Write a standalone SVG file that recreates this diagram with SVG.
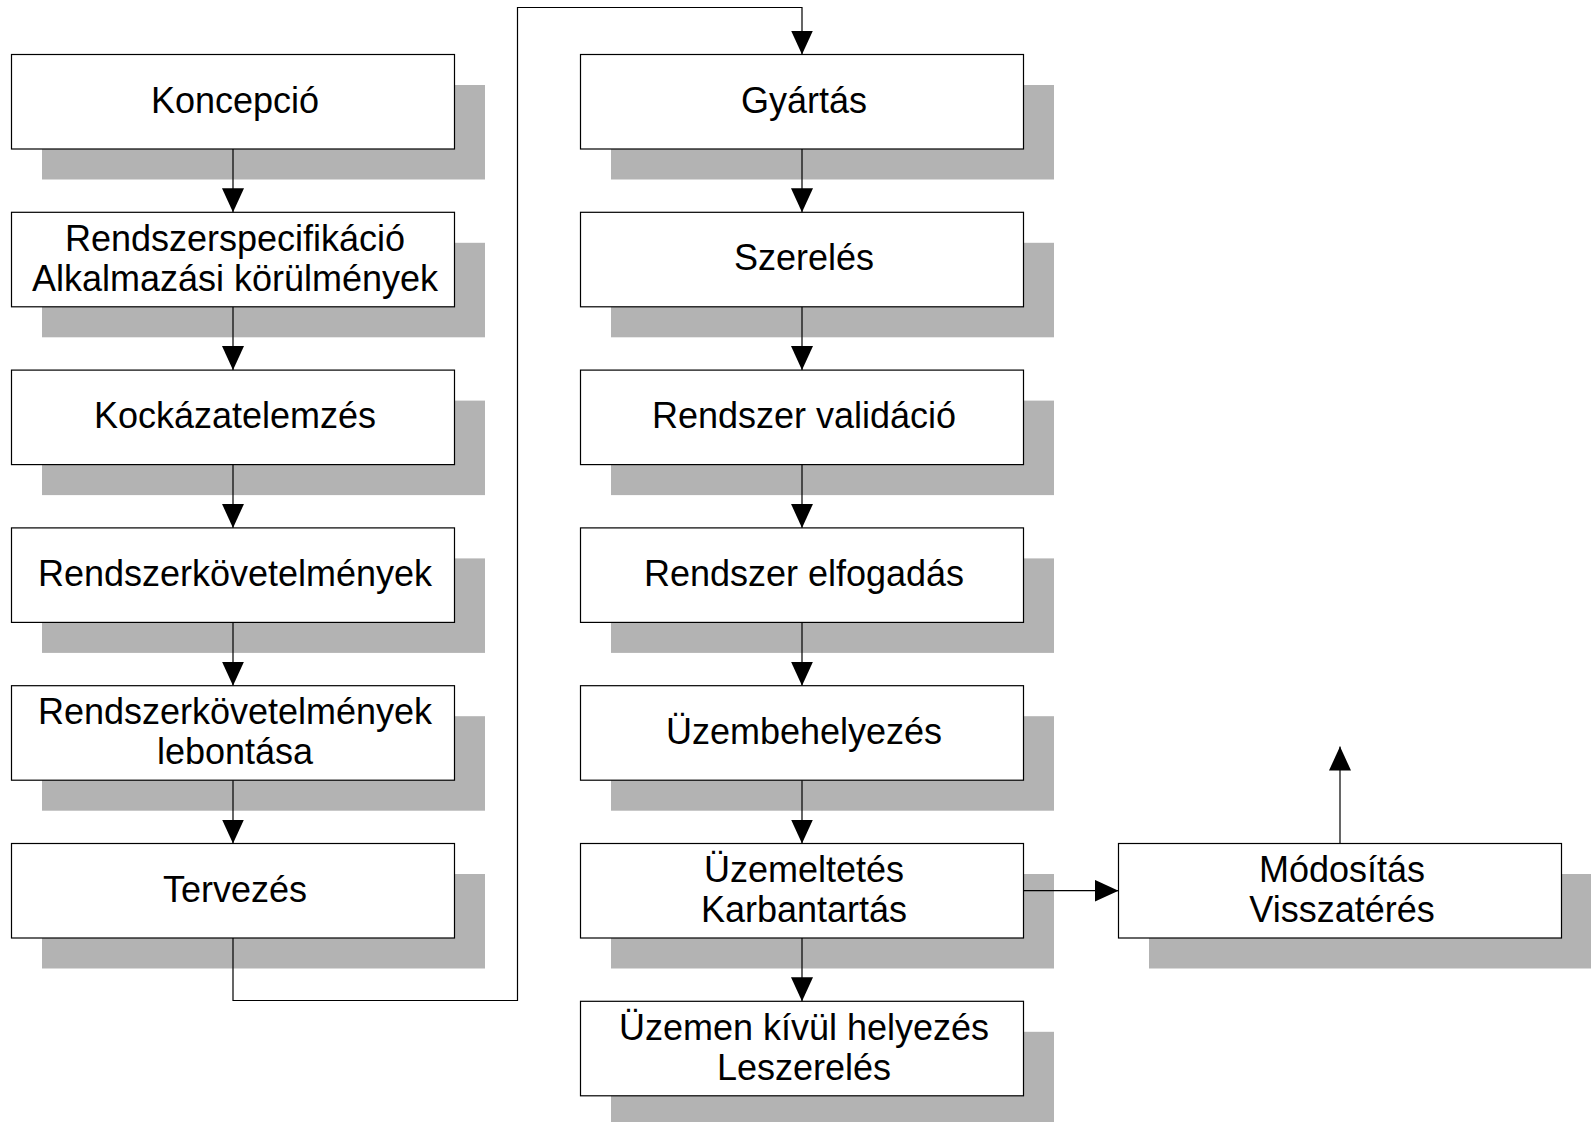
<svg xmlns="http://www.w3.org/2000/svg" width="1591" height="1122" viewBox="0 0 1591 1122">
<defs>
<style>
.sh{fill:#b3b3b3;stroke:none}
.bx{fill:#ffffff;stroke:#000000;stroke-width:1.2}
.t{font-family:"Liberation Sans",Arial,sans-serif;font-size:36px;fill:#000000;text-anchor:middle}
.c{fill:none;stroke:#000000;stroke-width:1.2}
</style>
<marker id="ar" viewBox="0 0 24 22" refX="24" refY="11" markerWidth="24" markerHeight="22" markerUnits="userSpaceOnUse" orient="auto">
<path d="M0,0 L24,11 L0,22 z" fill="#000000"/>
</marker>
</defs>
<rect width="1591" height="1122" fill="#ffffff"/>

<!-- shadows -->
<g id="shadows">
<rect class="sh" x="42" y="85" width="443" height="94.5"/>
<rect class="sh" x="42" y="242.8" width="443" height="94.5"/>
<rect class="sh" x="42" y="400.6" width="443" height="94.5"/>
<rect class="sh" x="42" y="558.4" width="443" height="94.5"/>
<rect class="sh" x="42" y="716.2" width="443" height="94.5"/>
<rect class="sh" x="42" y="874" width="443" height="94.5"/>
<rect class="sh" x="611" y="85" width="443" height="94.5"/>
<rect class="sh" x="611" y="242.8" width="443" height="94.5"/>
<rect class="sh" x="611" y="400.6" width="443" height="94.5"/>
<rect class="sh" x="611" y="558.4" width="443" height="94.5"/>
<rect class="sh" x="611" y="716.2" width="443" height="94.5"/>
<rect class="sh" x="611" y="874" width="443" height="94.5"/>
<rect class="sh" x="611" y="1031.8" width="443" height="94.5"/>
<rect class="sh" x="1149" y="874" width="443" height="94.5"/>
</g>

<g id="connectors">
<path class="c" d="M233,149 V212.3" marker-end="url(#ar)"/>
<path class="c" d="M233,306.8 V370.1" marker-end="url(#ar)"/>
<path class="c" d="M233,464.6 V527.9" marker-end="url(#ar)"/>
<path class="c" d="M233,622.4 V685.7" marker-end="url(#ar)"/>
<path class="c" d="M233,780.2 V843.5" marker-end="url(#ar)"/>
<path class="c" d="M233,938 V1000.5 H517.5 V7.5 H802 V54.5" marker-end="url(#ar)"/>
<path class="c" d="M802,149 V212.3" marker-end="url(#ar)"/>
<path class="c" d="M802,306.8 V370.1" marker-end="url(#ar)"/>
<path class="c" d="M802,464.6 V527.9" marker-end="url(#ar)"/>
<path class="c" d="M802,622.4 V685.7" marker-end="url(#ar)"/>
<path class="c" d="M802,780.2 V843.5" marker-end="url(#ar)"/>
<path class="c" d="M802,938 V1001.3" marker-end="url(#ar)"/>
<path class="c" d="M1023.5,890.7 H1118.5" marker-end="url(#ar)"/>
<path class="c" d="M1340,843.5 V746.5" marker-end="url(#ar)"/>
</g>

<g id="n1"><rect class="bx" x="11.5" y="54.5" width="443" height="94.5"/><text class="t" x="235" y="112.5">Koncepció</text></g>
<g id="n2"><rect class="bx" x="11.5" y="212.3" width="443" height="94.5"/><text class="t" x="235" y="251">Rendszerspecifikáció</text><text class="t" x="235" y="291">Alkalmazási körülmények</text></g>
<g id="n3"><rect class="bx" x="11.5" y="370.1" width="443" height="94.5"/><text class="t" x="235" y="428.1">Kockázatelemzés</text></g>
<g id="n4"><rect class="bx" x="11.5" y="527.9" width="443" height="94.5"/><text class="t" x="235" y="585.9">Rendszerkövetelmények</text></g>
<g id="n5"><rect class="bx" x="11.5" y="685.7" width="443" height="94.5"/><text class="t" x="235" y="724.4">Rendszerkövetelmények</text><text class="t" x="235" y="764.4">lebontása</text></g>
<g id="n6"><rect class="bx" x="11.5" y="843.5" width="443" height="94.5"/><text class="t" x="235" y="901.5">Tervezés</text></g>

<g id="m1"><rect class="bx" x="580.5" y="54.5" width="443" height="94.5"/><text class="t" x="804" y="112.5">Gyártás</text></g>
<g id="m2"><rect class="bx" x="580.5" y="212.3" width="443" height="94.5"/><text class="t" x="804" y="270.3">Szerelés</text></g>
<g id="m3"><rect class="bx" x="580.5" y="370.1" width="443" height="94.5"/><text class="t" x="804" y="428.1">Rendszer validáció</text></g>
<g id="m4"><rect class="bx" x="580.5" y="527.9" width="443" height="94.5"/><text class="t" x="804" y="585.9">Rendszer elfogadás</text></g>
<g id="m5"><rect class="bx" x="580.5" y="685.7" width="443" height="94.5"/><text class="t" x="804" y="743.7">Üzembehelyezés</text></g>
<g id="m6"><rect class="bx" x="580.5" y="843.5" width="443" height="94.5"/><text class="t" x="804" y="882.2">Üzemeltetés</text><text class="t" x="804" y="922.2">Karbantartás</text></g>
<g id="m7"><rect class="bx" x="580.5" y="1001.3" width="443" height="94.5"/><text class="t" x="804" y="1040">Üzemen kívül helyezés</text><text class="t" x="804" y="1080">Leszerelés</text></g>

<g id="r1"><rect class="bx" x="1118.5" y="843.5" width="443" height="94.5"/><text class="t" x="1342" y="882.2">Módosítás</text><text class="t" x="1342" y="922.2">Visszatérés</text></g>
</svg>
